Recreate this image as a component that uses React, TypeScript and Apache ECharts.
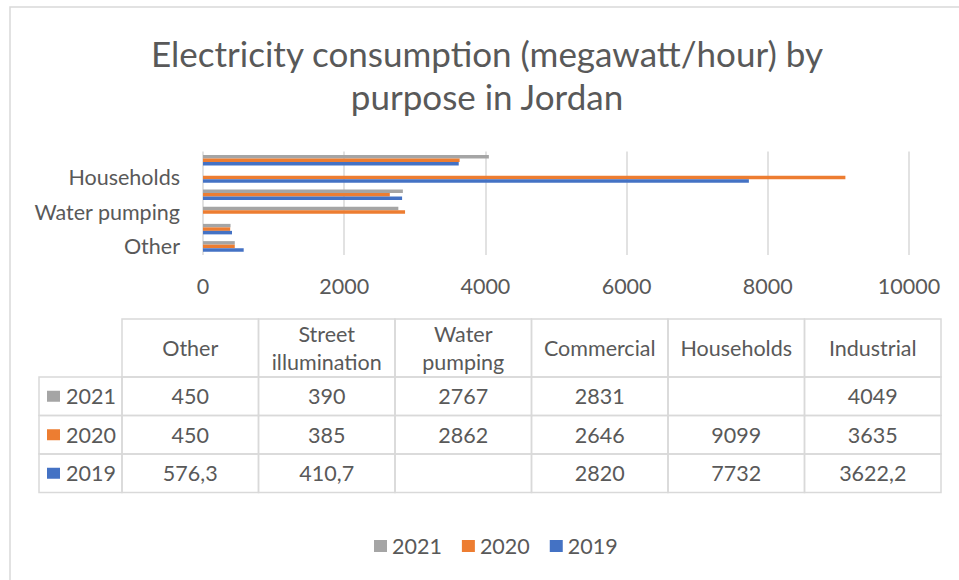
import React, { useEffect, useRef } from "react";
import * as echarts from "echarts";

const categories = ["Other", "Street illumination", "Water pumping", "Commercial", "Households", "Industrial"];
const headerLabels = ["Other", "Street\nillumination", "Water\npumping", "Commercial", "Households", "Industrial"];
const years = ["2019", "2020", "2021"];
const values2019: (number | null)[] = [576.3, 410.7, null, 2820, 7732, 3622.2];
const values2020: (number | null)[] = [450, 385, 2862, 2646, 9099, 3635];
const values2021: (number | null)[] = [450, 390, 2767, 2831, null, 4049];
const xTicks = [0, 2000, 4000, 6000, 8000, 10000];
const colors = ["#4472c4", "#ed7d31", "#a5a5a5"];
const titleLines = ["Electricity consumption (megawatt/hour) by", "purpose in Jordan"];

const FONT = "Lato";
const TEXT = "#595959";
const LINE = "#d9d9d9";
const FS = 21.5;

function fmt(v: number | null) {
  if (v === null || v === undefined) return "";
  return String(v).replace(".", ",");
}

export default function App() {
  const ref = useRef<HTMLDivElement>(null);
  useEffect(() => {
    if (!ref.current) return;
    const chart = echarts.init(ref.current, null, { renderer: "svg" });
    const seriesValues = [values2019, values2020, values2021];

    const tblLeft = 39;
    const colStart = 122;
    const colW = 136.5;
    const headTop = 319;
    const headH = 58;
    const rowH = 38.5;
    const graphics: any[] = [];
    graphics.push({
      type: "rect",
      shape: { x: 10, y: 7, width: 980, height: 600 },
      style: { fill: "none", stroke: LINE, lineWidth: 1.5 },
      silent: true,
    });
    graphics.push({
      type: "text",
      style: {
        text: titleLines.join("\n"),
        x: 487,
        y: 31,
        textAlign: "center",
        textVerticalAlign: "top",
        fontSize: 35,
        lineHeight: 43,
        fill: TEXT,
        fontFamily: FONT,
      },
    });
    headerLabels.forEach((h, i) => {
      const x = colStart + i * colW;
      graphics.push({
        type: "rect",
        shape: { x, y: headTop, width: colW, height: headH },
        style: { fill: "none", stroke: LINE, lineWidth: 1.5 },
      });
      graphics.push({
        type: "text",
        style: {
          text: h,
          x: x + colW / 2,
          y: headTop + headH / 2,
          textAlign: "center",
          textVerticalAlign: "middle",
          fontSize: FS,
          lineHeight: 28,
          fill: TEXT,
          fontFamily: FONT,
        },
      });
    });
    const rowOrder = [2, 1, 0];
    rowOrder.forEach((si, r) => {
      const y = headTop + headH + r * rowH;
      graphics.push({
        type: "rect",
        shape: { x: tblLeft, y, width: colStart - tblLeft, height: rowH },
        style: { fill: "none", stroke: LINE, lineWidth: 1.5 },
      });
      graphics.push({
        type: "rect",
        shape: { x: tblLeft + 8, y: y + rowH / 2 - 5.5, width: 13, height: 11 },
        style: { fill: colors[si] },
      });
      graphics.push({
        type: "text",
        style: {
          text: years[si],
          x: tblLeft + 27,
          y: y + rowH / 2,
          textAlign: "left",
          textVerticalAlign: "middle",
          fontSize: FS,
          fill: TEXT,
          fontFamily: FONT,
        },
      });
      seriesValues[si].forEach((v, ci) => {
        const x = colStart + ci * colW;
        graphics.push({
          type: "rect",
          shape: { x, y, width: colW, height: rowH },
          style: { fill: "none", stroke: LINE, lineWidth: 1.5 },
        });
        graphics.push({
          type: "text",
          style: {
            text: fmt(v),
            x: x + colW / 2,
            y: y + rowH / 2,
            textAlign: "center",
            textVerticalAlign: "middle",
            fontSize: FS,
            fill: TEXT,
            fontFamily: FONT,
          },
        });
      });
    });

    const seriesOrder = [2, 1, 0];
    chart.setOption({
      animation: false,
      backgroundColor: "#ffffff",
      textStyle: { fontFamily: FONT },
      legend: {
        data: ["2021", "2020", "2019"],
        left: 369,
        top: 530,
        icon: "rect",
        itemWidth: 13,
        itemHeight: 12,
        itemGap: 20,
        textStyle: { fontSize: FS, color: TEXT, fontFamily: FONT },
      },
      grid: { left: 203, right: 50, top: 151.5, bottom: 325, containLabel: false },
      xAxis: {
        type: "value",
        min: xTicks[0],
        max: xTicks[xTicks.length - 1],
        interval: xTicks[1] - xTicks[0],
        axisLine: { show: false },
        axisTick: { show: false },
        axisLabel: {
          fontSize: FS,
          color: TEXT,
          margin: 20,
          fontFamily: FONT,
          formatter: (v: number) => String(v),
        },
        splitLine: { lineStyle: { color: LINE, width: 1.5 } },
      },
      yAxis: {
        type: "category",
        data: categories,
        axisLine: { show: false },
        axisTick: { show: false },
        axisLabel: { fontSize: FS, color: TEXT, margin: 23, interval: 1, fontFamily: FONT },
      },
      series: seriesOrder.map((i) => ({
        name: years[i],
        type: "bar",
        data: seriesValues[i],
        barWidth: 3.5,
        barGap: "0%",
        itemStyle: { color: colors[i] },
      })),
      graphic: graphics,
    });
    return () => chart.dispose();
  }, []);
  return (
    <div
      ref={ref}
      style={{ position: "fixed", left: 0, top: 0, width: 959, height: 580 }}
    />
  );
}
